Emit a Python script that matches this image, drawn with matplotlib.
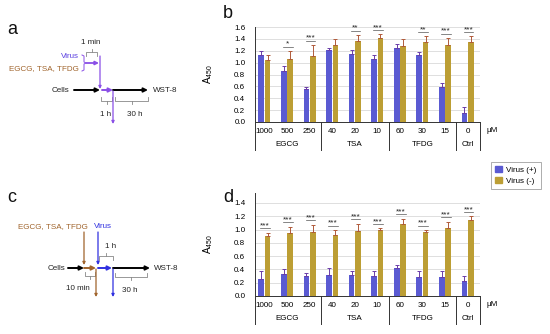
import matplotlib
matplotlib.use("Agg")
import matplotlib.pyplot as plt
import numpy as np

plt.rcParams['font.family'] = ['Liberation Sans', 'DejaVu Sans']
plt.rcParams['mathtext.fontset'] = 'custom'
plt.rcParams['mathtext.rm'] = 'Liberation Sans'

# ---------------- data ----------------
conc = ['1000', '500', '250', '40', '20', '10', '60', '30', '15', '0']
groups = ['EGCG', 'TSA', 'TFDG', 'Ctrl']
group_centers = [1, 4, 7, 9]
group_bounds = [2.5, 5.5, 8.5]

b_pos = [1.13, 0.86, 0.55, 1.22, 1.15, 1.06, 1.25, 1.13, 0.59, 0.16]
b_pos_err = [0.07, 0.08, 0.04, 0.03, 0.06, 0.07, 0.06, 0.05, 0.06, 0.10]
b_neg = [1.05, 1.06, 1.12, 1.29, 1.37, 1.41, 1.28, 1.34, 1.29, 1.34]
b_neg_err = [0.08, 0.14, 0.18, 0.10, 0.10, 0.07, 0.12, 0.10, 0.13, 0.11]
b_sig = ['', '*', '***', '', '**', '***', '', '**', '***', '***']

d_pos = [0.25, 0.33, 0.30, 0.32, 0.31, 0.30, 0.42, 0.29, 0.29, 0.22]
d_pos_err = [0.13, 0.08, 0.05, 0.10, 0.07, 0.07, 0.05, 0.08, 0.09, 0.08]
d_neg = [0.91, 0.95, 0.96, 0.92, 0.98, 0.99, 1.08, 0.96, 1.02, 1.14]
d_neg_err = [0.04, 0.09, 0.11, 0.07, 0.11, 0.03, 0.08, 0.03, 0.10, 0.06]
d_sig = ['***'] * 10

C_POS = '#5A5AD2'
C_NEG = '#BC9E34'
E_POS = '#6A3CA8'
E_NEG = '#B05A3A'

W, H = 550, 334
fig = plt.figure(figsize=(5.5, 3.34), dpi=100)

FS = 5.8


def make_bar(rect, pos, pos_err, neg, neg_err, sig, ylim, yticks, bot_px_h):
    ax = fig.add_axes(rect)
    x = np.arange(len(conc))
    bw = 0.25
    off = 0.14
    ax.bar(x - off, pos, bw, color=C_POS, zorder=3)
    ax.bar(x + off, neg, bw, color=C_NEG, zorder=3)
    ax.errorbar(x - off, pos, yerr=[np.zeros(len(pos)), pos_err], fmt='none',
                ecolor=E_POS, elinewidth=0.7, capsize=1.3, capthick=0.7, zorder=4)
    ax.errorbar(x + off, neg, yerr=[np.zeros(len(neg)), neg_err], fmt='none',
                ecolor=E_NEG, elinewidth=0.7, capsize=1.3, capthick=0.7, zorder=4)
    for i, s in enumerate(sig):
        if not s:
            continue
        top = max(pos[i] + pos_err[i], neg[i] + neg_err[i])
        yl = top + 0.07
        ax.plot([i - 0.18, i + 0.25], [yl, yl], color='#555555', lw=0.5,
                zorder=5, clip_on=False)
        ax.text(i + 0.03, yl - 0.02, s, ha='center', va='bottom', fontsize=6,
                color='#222222', zorder=5, clip_on=False)
    ax.set_xlim(-0.42, 9.55)
    ax.set_ylim(*ylim)
    ax.set_yticks(yticks)
    ax.set_yticklabels([f'{v:.1f}' for v in yticks], fontsize=FS)
    ax.yaxis.grid(True, color='#D9D9D9', lw=0.6, zorder=0)
    ax.set_axisbelow(True)
    ax.set_xticks(x)
    ax.set_xticklabels(conc, fontsize=FS)
    ax.tick_params(axis='both', length=0)
    ax.tick_params(axis='y', pad=7)
    ax.tick_params(axis='x', pad=4)
    for sp in ['top', 'right']:
        ax.spines[sp].set_visible(False)
    for sp in ['left', 'bottom']:
        ax.spines[sp].set_linewidth(0.7)
        ax.spines[sp].set_color('#333333')
    tr = ax.get_xaxis_transform()
    drop = -28.0 / bot_px_h
    for xb in [-0.42] + group_bounds + [9.55]:
        ax.plot([xb, xb], [0, drop], transform=tr, color='#333333', lw=0.7,
                clip_on=False)
    for g, gc in zip(groups, group_centers):
        ax.text(gc, -23.0 / bot_px_h, g, transform=tr, ha='center', va='center',
                fontsize=FS)
    ax.text(9.83, -9.0 / bot_px_h, 'μM', transform=tr, ha='left', va='center',
            fontsize=FS)
    ax.set_ylabel('A$_{450}$', fontsize=7)
    ax.yaxis.set_label_coords(-0.178, 0.5)
    return ax


# panel b: left 255, right 480, top 27, bottom 122 (px)
axb = make_bar([255 / W, 1 - 122 / H, 225 / W, 95 / H], b_pos, b_pos_err, b_neg,
               b_neg_err, b_sig, (0, 1.6), np.arange(0, 1.61, 0.2), 95.0)
# panel d: top 193, bottom 296
axd = make_bar([255 / W, 1 - 296 / H, 225 / W, 103 / H], d_pos, d_pos_err, d_neg,
               d_neg_err, d_sig, (0, 1.55), np.arange(0, 1.41, 0.2), 103.0)

# legend
from matplotlib.patches import Patch
handles = [Patch(color=C_POS, label='Virus (+)'), Patch(color=C_NEG, label='Virus (-)')]
leg = fig.legend(handles=handles, loc='upper left', bbox_to_anchor=(487 / W, 1 - 158 / H),
                 fontsize=FS, frameon=True, fancybox=False, edgecolor='#888888',
                 handlelength=0.8, handleheight=0.8, handletextpad=0.6,
                 borderpad=0.5, labelspacing=0.4)
leg.get_frame().set_linewidth(0.6)

# ---------------- schematic overlay (pixel coordinates) ----------------
ov = fig.add_axes([0, 0, 1, 1], zorder=-1)
ov.set_xlim(0, W)
ov.set_ylim(H, 0)
ov.axis('off')

PURPLE = '#8A4FE6'
BLUE = '#3030E0'
BROWN = '#A0642C'
VBLUE = '#5A3FE0'
GRAY = '#888888'
TXT = '#222222'


def arrow(x1, y1, x2, y2, color, lw=1.4, ms=6):
    ov.annotate('', xy=(x2, y2), xytext=(x1, y1),
                arrowprops=dict(arrowstyle='-|>', color=color, lw=lw,
                                mutation_scale=ms, shrinkA=0, shrinkB=0))


def bracket_down(x1, x2, y, h=4, nub=3):
    xm = (x1 + x2) / 2
    ov.plot([x1, x1, x2, x2], [y, y + h, y + h, y], color=GRAY, lw=0.6)
    ov.plot([xm, xm], [y + h, y + h + nub], color=GRAY, lw=0.6)


def bracket_up(x1, x2, y, h=4, nub=3):
    xm = (x1 + x2) / 2
    ov.plot([x1, x1, x2, x2], [y, y - h, y - h, y], color=GRAY, lw=0.6)
    ov.plot([xm, xm], [y - h, y - h - nub], color=GRAY, lw=0.6)


# panel letters
for lab, (lx, ly) in {'a': (12, 29), 'b': (228, 13), 'c': (12, 198), 'd': (228, 197)}.items():
    ov.text(lx, ly, lab, fontsize=13, ha='center', va='center', color='#111111')

# ---- panel a ----
ov.text(91, 43, '1 min', fontsize=FS, ha='center', va='center', color=TXT)
bracket_up(86, 97, 56, h=4, nub=3)
ov.text(79, 57, 'Virus', fontsize=FS, ha='right', va='center', color=VBLUE)
ov.text(79, 69, 'EGCG, TSA, TFDG', fontsize=FS, ha='right', va='center', color=BROWN)
ov.plot([82, 84, 84, 86, 84, 84, 82], [55, 56, 62, 63, 64, 70, 71], color=PURPLE, lw=0.7)
arrow(86, 63, 99, 63, PURPLE, lw=1.3, ms=5)
arrow(100, 56, 100, 89, PURPLE, lw=0.9, ms=4)
ov.text(69, 90, 'Cells', fontsize=FS, ha='right', va='center', color=TXT)
arrow(74, 90, 100, 90, 'black')
arrow(102, 90, 113, 90, PURPLE)
arrow(113, 90, 148, 90, 'black')
ov.text(153, 90, 'WST-8', fontsize=FS, ha='left', va='center', color=TXT)
bracket_down(101, 112, 97, h=4, nub=3)
bracket_down(115, 148, 97, h=4, nub=3)
ov.text(106, 115, '1 h', fontsize=FS, ha='center', va='center', color=TXT)
ov.text(135, 115, '30 h', fontsize=FS, ha='center', va='center', color=TXT)
arrow(113, 91, 113, 124, PURPLE, lw=0.9, ms=4)

# ---- panel c ----
ov.text(88, 227, 'EGCG, TSA, TFDG', fontsize=FS, ha='right', va='center', color=BROWN)
ov.text(94, 227, 'Virus', fontsize=FS, ha='left', va='center', color=BLUE)
arrow(84, 232, 84, 265, BROWN, lw=0.9, ms=4)
arrow(98, 232, 98, 265, BLUE, lw=0.9, ms=4)
ov.text(111, 246, '1 h', fontsize=FS, ha='center', va='center', color=TXT)
bracket_up(99, 113, 260, h=4, nub=3)
ov.text(65, 268, 'Cells', fontsize=FS, ha='right', va='center', color=TXT)
arrow(68, 268, 84, 268, 'black')
arrow(84, 268, 96, 268, BROWN)
arrow(98, 268, 112, 268, BLUE)
arrow(113, 268, 150, 268, 'black')
ov.text(154, 268, 'WST-8', fontsize=FS, ha='left', va='center', color=TXT)
bracket_down(85, 95, 272, h=4, nub=3)
bracket_down(115, 147, 273, h=4, nub=3)
ov.text(78, 288, '10 min', fontsize=FS, ha='center', va='center', color=TXT)
ov.text(130, 290, '30 h', fontsize=FS, ha='center', va='center', color=TXT)
arrow(96, 269, 96, 297, BROWN, lw=0.9, ms=4)
arrow(113, 269, 113, 297, BLUE, lw=0.9, ms=4)

fig.savefig('out.png', dpi=100)
